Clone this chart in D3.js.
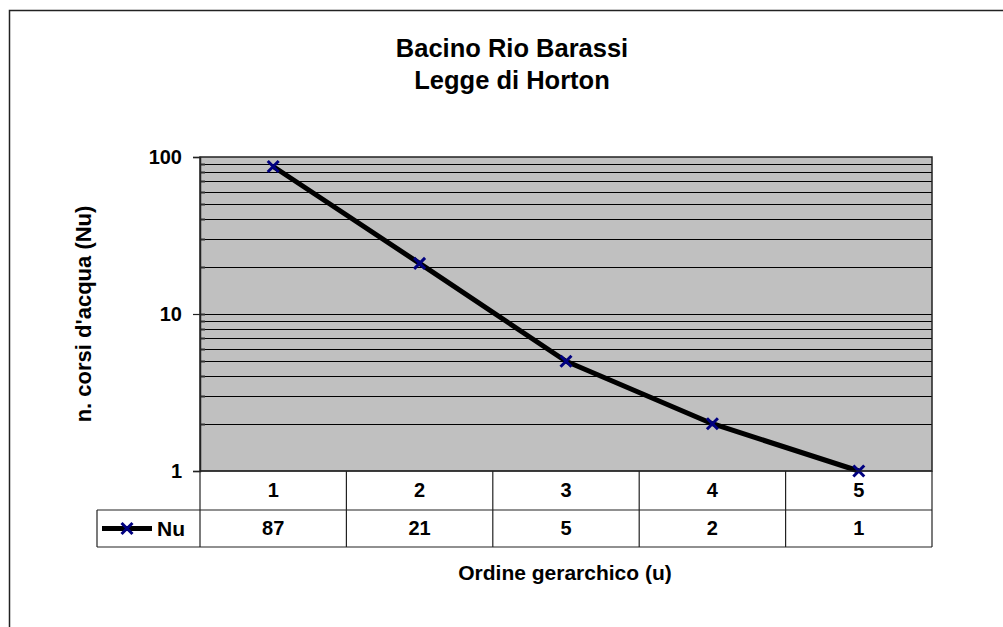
<!DOCTYPE html>
<html>
<head>
<meta charset="utf-8">
<script src="https://cdn.jsdelivr.net/npm/d3@7"></script>
<style>
  body { margin: 0; background: #fff; }
  svg text { font-family: Arial, "Liberation Sans", sans-serif; font-weight: bold; }
</style>
</head>
<body>
<svg width="1003" height="627"></svg>
<script>
// dati
const ordini = ["1", "2", "3", "4", "5"];
const nu = [87, 21, 5, 2, 1];
const tickY = [1, 10, 100];
const serie = "Nu";

const svg = d3.select("svg");

// cornice esterna
svg.append("rect")
    .attr("x", 9.5).attr("y", 10.5)
    .attr("width", 1010).attr("height", 640)
    .attr("fill", "white").attr("stroke", "#222").attr("stroke-width", 1.5);

// area del grafico
const pLeft = 200, pRight = 932, pTop = 157, pBottom = 471;

const x = d3.scaleBand().domain(ordini).range([pLeft, pRight]);
const y = d3.scaleLog().domain([1, 100]).range([pBottom, pTop]);

svg.append("rect")
    .attr("x", pLeft).attr("y", pTop)
    .attr("width", pRight - pLeft).attr("height", pBottom - pTop)
    .attr("fill", "#c0c0c0");

// griglia su tutti i valori minori
const griglia = y.ticks().filter(v => v > 1 && v < 100);
svg.append("g")
    .selectAll("line")
    .data(griglia)
    .join("line")
    .attr("x1", pLeft).attr("x2", pRight)
    .attr("y1", d => Math.round(y(d)) + 0.5).attr("y2", d => Math.round(y(d)) + 0.5)
    .attr("stroke", "#000").attr("stroke-width", 1.2);

// tacche minori interne
svg.append("g")
    .selectAll("line")
    .data(griglia)
    .join("line")
    .attr("x1", pLeft).attr("x2", pLeft + 5)
    .attr("y1", d => Math.round(y(d)) + 0.5).attr("y2", d => Math.round(y(d)) + 0.5)
    .attr("stroke", "#333").attr("stroke-width", 2);

svg.append("rect")
    .attr("x", pLeft).attr("y", pTop)
    .attr("width", pRight - pLeft).attr("height", pBottom - pTop)
    .attr("fill", "none").attr("stroke", "#222").attr("stroke-width", 1.5);

// asse y
const yAxis = svg.append("g")
    .attr("transform", `translate(${pLeft},0)`)
    .call(d3.axisLeft(y).tickValues(tickY).tickFormat(d3.format("d")).tickSize(7).tickPadding(11));
yAxis.select(".domain").attr("stroke", "#222").attr("stroke-width", 1.5);
yAxis.selectAll(".tick line").attr("stroke", "#222").attr("stroke-width", 1.2);
yAxis.selectAll(".tick text")
    .attr("font-size", 20).attr("font-weight", "bold").attr("fill", "#000")
    .attr("font-family", "Arial, 'Liberation Sans', sans-serif");

// linea della serie
const linea = d3.line()
    .x((d, i) => x(ordini[i]) + x.bandwidth() / 2)
    .y(d => y(d));

svg.append("path")
    .datum(nu)
    .attr("d", linea)
    .attr("fill", "none").attr("stroke", "#000").attr("stroke-width", 5)
    .attr("stroke-linejoin", "round");

// marcatori a x
const croce = d3.symbol().type(d3.symbolX).size(80);
svg.append("g")
    .selectAll("path")
    .data(nu)
    .join("path")
    .attr("transform", (d, i) => `translate(${x(ordini[i]) + x.bandwidth() / 2},${y(d)})`)
    .attr("d", croce)
    .attr("fill", "none").attr("stroke", "#000080").attr("stroke-width", 3);

// tabella dati
const r1 = pBottom, r2 = 510, r3 = 547, legLeft = 97;
const tab = svg.append("g").attr("stroke", "#222").attr("stroke-width", 1.2);
tab.append("line").attr("x1", pLeft).attr("x2", pRight).attr("y1", r1).attr("y2", r1);
tab.append("line").attr("x1", legLeft).attr("x2", pRight).attr("y1", r2).attr("y2", r2);
tab.append("line").attr("x1", legLeft).attr("x2", pRight).attr("y1", r3).attr("y2", r3);
tab.append("line").attr("x1", legLeft).attr("x2", legLeft).attr("y1", r2).attr("y2", r3);
tab.selectAll(".col")
    .data(ordini.concat(["fine"]))
    .join("line")
    .attr("class", "col")
    .attr("x1", (d, i) => i < ordini.length ? x(d) : pRight)
    .attr("x2", (d, i) => i < ordini.length ? x(d) : pRight)
    .attr("y1", r1).attr("y2", r3);

svg.append("g")
    .selectAll("text")
    .data(ordini)
    .join("text")
    .attr("x", d => x(d) + x.bandwidth() / 2)
    .attr("y", 497)
    .attr("text-anchor", "middle").attr("font-size", 20)
    .text(d => d);

svg.append("g")
    .selectAll("text")
    .data(nu)
    .join("text")
    .attr("x", (d, i) => x(ordini[i]) + x.bandwidth() / 2)
    .attr("y", 535)
    .attr("text-anchor", "middle").attr("font-size", 20)
    .text(d => d);

// chiave della legenda
const ky = (r2 + r3) / 2;
svg.append("line")
    .attr("x1", 102).attr("x2", 152).attr("y1", ky).attr("y2", ky)
    .attr("stroke", "#000").attr("stroke-width", 5);
svg.append("path")
    .attr("transform", `translate(127,${ky})`)
    .attr("d", croce)
    .attr("fill", "none").attr("stroke", "#000080").attr("stroke-width", 3);
svg.append("text")
    .attr("x", 157).attr("y", 536)
    .attr("font-size", 21)
    .text(serie);

// titoli
svg.append("text")
    .attr("x", 512).attr("y", 57)
    .attr("text-anchor", "middle").attr("font-size", 25.5)
    .text("Bacino Rio Barassi");
svg.append("text")
    .attr("x", 512).attr("y", 89)
    .attr("text-anchor", "middle").attr("font-size", 25.5)
    .text("Legge di Horton");

svg.append("text")
    .attr("transform", `translate(91,${(pTop + pBottom) / 2}) rotate(-90)`)
    .attr("text-anchor", "middle").attr("font-size", 22)
    .text("n. corsi d'acqua (Nu)");

svg.append("text")
    .attr("x", 565).attr("y", 580)
    .attr("text-anchor", "middle").attr("font-size", 21)
    .text("Ordine gerarchico (u)");
</script>
</body>
</html>
